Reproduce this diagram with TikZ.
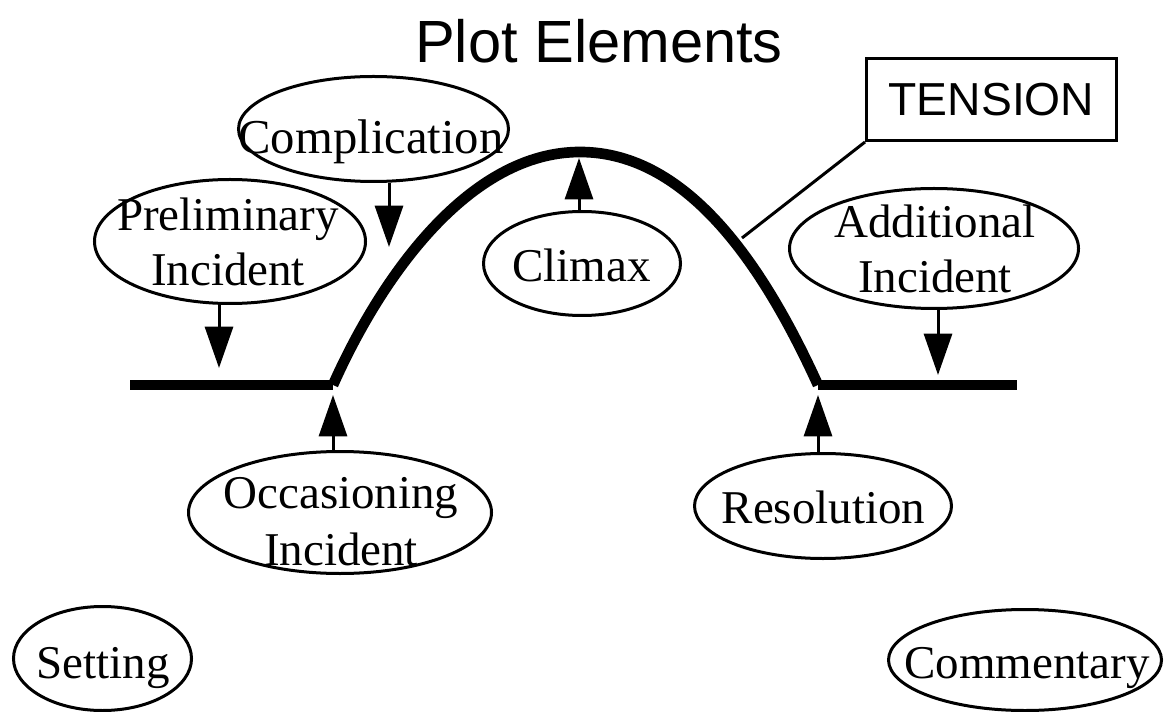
\documentclass[tikz,border=0pt]{standalone}
\usepackage{fontspec}
\setmainfont{Liberation Serif}
\newfontfamily\sansf{Liberation Sans}
\usetikzlibrary{shapes.geometric,arrows.meta}
\begin{document}
\begin{tikzpicture}[x=0.75pt,y=-0.75pt,
  oval/.style={draw, ellipse, line width=2.25pt, inner sep=0pt},
  lbl/.style={anchor=base, inner sep=0pt, font=\fontsize{35.25}{42}\selectfont},
  arr/.style={line width=2.25pt, -{Triangle[length=31pt,width=21pt]}},
  plotline/.style={line width=8pt},
  thinline/.style={line width=2.25pt}
]
\useasboundingbox (0,0) rectangle (1169,712);

% title
\node[anchor=base, inner sep=0pt, font=\sansf\fontsize{44.7}{50}\selectfont] (title) at (599,63) {Plot Elements};

% tension box
\node[draw, thinline, minimum width=187.5pt, minimum height=61.5pt, inner sep=0pt,
      font=\sansf\fontsize{34.7}{40}\selectfont] (tension) at (991.5,99.5) {TENSION};

% plot line
\coordinate (lstart) at (130,385);
\coordinate (lend) at (333,385);
\coordinate (peak) at (580,152);
\coordinate (rstart) at (818,385);
\coordinate (rend) at (1017,385);
\draw[plotline] (lstart) -- (lend);
\draw[plotline] (lend) .. controls (382,275) and (470,152) .. (peak)
                       .. controls (690,152) and (766,271) .. (rstart);
\draw[plotline] (rstart) -- (rend);

% tension pointer
\coordinate (tensEnd) at (742,238);
\draw[thinline] (tension.south west) -- (tensEnd);

% ellipses
\node[oval, minimum width=202.5pt, minimum height=78.75pt] (comp) at (373.5,129) {};
\node[oval, minimum width=203.25pt, minimum height=93pt] (prel) at (230,241.5) {};
\node[oval, minimum width=147.75pt, minimum height=78pt] (climax) at (582,263.5) {};
\node[oval, minimum width=216.75pt, minimum height=90pt] (addl) at (934,248.5) {};
\node[oval, minimum width=227.25pt, minimum height=91.5pt] (occ) at (340,512.5) {};
\node[oval, minimum width=192.75pt, minimum height=78.75pt] (res) at (823,506) {};
\node[oval, minimum width=133.5pt, minimum height=78pt] (setting) at (102.5,658.5) {};
\node[oval, minimum width=204.75pt, minimum height=75.75pt] (comm) at (1025,660) {};

% labels
\node[lbl, font=\fontsize{36.5}{42}\selectfont] (compT) at (371,154) {Complication};
\node[lbl] (prelT1) at (228,231) {Preliminary};
\node[lbl] (prelT2) at (228,286) {Incident};
\node[lbl] (climaxT) at (581.5,282) {Climax};
\node[lbl] (addlT1) at (935,238) {Additional};
\node[lbl] (addlT2) at (935,293) {Incident};
\node[lbl] (occT1) at (341,508) {Occasioning};
\node[lbl] (occT2) at (341,565) {Incident};
\node[lbl] (resT) at (823.5,523) {Resolution};
\node[lbl] (settingT) at (103,678) {Setting};
\node[lbl] (commT) at (1027,678) {Commentary};

% arrows
\coordinate (prelTip) at (219,368);
\coordinate (compTip) at (389,247);
\coordinate (climaxTip) at (579,158);
\coordinate (addlTip) at (938,375);
\coordinate (occTip) at (333,395);
\coordinate (resTip) at (818,395);
\draw[arr] (prelTip |- prel.south) -- (prelTip);
\draw[arr] (compTip |- comp.south) -- (compTip);
\draw[arr] (climaxTip |- climax.north) -- (climaxTip);
\draw[arr] (addlTip |- addl.south) -- (addlTip);
\draw[arr] (occTip |- occ.north) -- (occTip);
\draw[arr] (resTip |- res.north) -- (resTip);
\end{tikzpicture}
\end{document}
